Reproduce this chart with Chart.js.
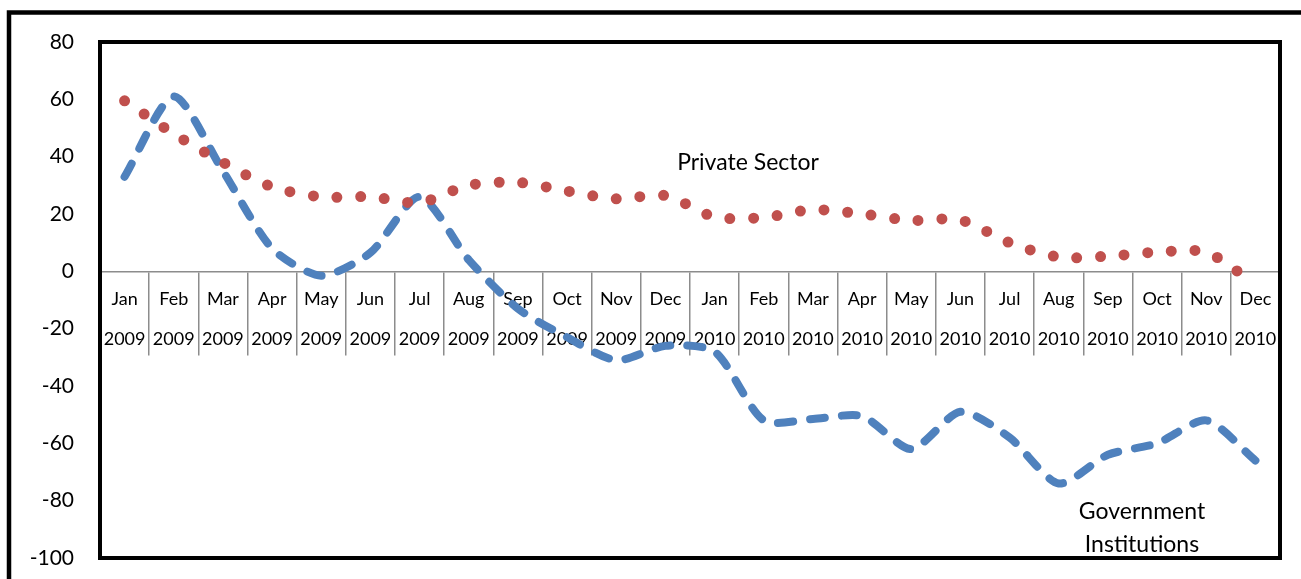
<!DOCTYPE html>
<html>
<head>
<meta charset="utf-8">
<script src="https://cdn.jsdelivr.net/npm/chart.js@4/dist/chart.umd.min.js"></script>
<style>
  html, body { margin: 0; padding: 0; background: #fff; }
  canvas { display: block; }
</style>
</head>
<body>
<canvas id="chart" width="1301" height="579"></canvas>
<script>
// DATA -----------------------------------------------------------------------

const months = ['Jan', 'Feb', 'Mar', 'Apr', 'May', 'Jun', 'Jul', 'Aug', 'Sep', 'Oct', 'Nov', 'Dec',
                'Jan', 'Feb', 'Mar', 'Apr', 'May', 'Jun', 'Jul', 'Aug', 'Sep', 'Oct', 'Nov', 'Dec']
const years = ['2009', '2009', '2009', '2009', '2009', '2009', '2009', '2009', '2009', '2009', '2009', '2009',
               '2010', '2010', '2010', '2010', '2010', '2010', '2010', '2010', '2010', '2010', '2010', '2010']

const privateSector = [59.5, 48, 38, 29.5, 26, 26, 24, 30, 31, 28, 25.3, 26.4,
                       19, 18.8, 21.5, 20, 17.8, 17.9, 10, 5, 5.3, 6.7, 6.6, -4.5]
const governmentInstitutions = [33, 61, 35, 8, -1.5, 6.5, 26, 4, -13, -23, -31, -26,
                                -28, -52, -51.5, -50.5, -62, -49, -58, -74, -64, -60, -52, -66]

const yTicks = {min: -100, max: 80, step: 20}

// SETTINGS -------------------------------------------------------------------

const colors = {
    private: '#C0504D',
    government: '#4F81BD',
    axisBox: '#8c8c8c'
}
const fontFamily = 'Lato, "Open Sans", sans-serif'

// PLUGINS --------------------------------------------------------------------

// outer chart frame, plot area border and the two series captions
const framePlugin = {
    id: 'frames',
    beforeDraw(chart) {
        const ctx = chart.ctx
        ctx.save()
        ctx.fillStyle = '#fff'
        ctx.fillRect(0, 0, chart.width, chart.height)
        ctx.strokeStyle = '#000'
        ctx.lineWidth = 4.5
        ctx.beginPath()
        ctx.moveTo(9, chart.height + 10)
        ctx.lineTo(9, 12.5)
        ctx.lineTo(chart.width + 10, 12.5)
        ctx.stroke()
        ctx.restore()
    },
    beforeDatasetsDraw(chart) {
        const {ctx, chartArea: a} = chart
        ctx.save()
        ctx.strokeStyle = '#000'
        ctx.lineWidth = 4
        ctx.strokeRect(a.left, a.top, a.right - a.left, a.bottom - a.top)
        ctx.restore()
    },
    afterDatasetsDraw(chart) {
        const ctx = chart.ctx
        ctx.save()
        ctx.fillStyle = '#000'
        ctx.font = `23px ${fontFamily}`
        ctx.textAlign = 'center'
        ctx.textBaseline = 'alphabetic'
        ctx.fillText('Private Sector', 748, 170)
        ctx.fillText('Government', 1142, 519)
        ctx.fillText('Institutions', 1142, 552)
        ctx.restore()
    }
}

// CHART ----------------------------------------------------------------------

new Chart(document.getElementById('chart'), {
    type: 'line',
    data: {
        labels: months.map((m, i) => [m, years[i]]),
        datasets: [
            {
                label: 'Private Sector',
                data: privateSector,
                borderColor: colors.private,
                borderWidth: 11,
                borderDash: [0, 23.7],
                borderCapStyle: 'round',
                pointRadius: 0,
                tension: 0.3,
                fill: false
            },
            {
                label: 'Government Institutions',
                data: governmentInstitutions,
                borderColor: colors.government,
                borderWidth: 8,
                borderDash: [15, 17],
                borderCapStyle: 'round',
                borderJoinStyle: 'round',
                pointRadius: 0,
                tension: 0.25,
                fill: false
            }
        ]
    },
    options: {
        responsive: false,
        animation: false,
        layout: {
            padding: {left: 0, top: 42, right: 21, bottom: 21}
        },
        plugins: {
            legend: {display: false},
            tooltip: {enabled: false}
        },
        scales: {
            x: {
                position: {y: 0},
                offset: true,
                grid: {
                    offset: true,
                    drawOnChartArea: false,
                    drawTicks: true,
                    tickLength: 83,
                    color: colors.axisBox,
                    lineWidth: 1.5
                },
                border: {
                    display: true,
                    color: colors.axisBox,
                    width: 1.5
                },
                ticks: {
                    autoSkip: false,
                    maxRotation: 0,
                    minRotation: 0,
                    padding: -75,
                    color: '#000',
                    font: {family: fontFamily, size: 18, lineHeight: '40px'}
                }
            },
            y: {
                min: yTicks.min,
                max: yTicks.max,
                // invisible tick marks keep the labels 26px off the plot
                grid: {display: false, drawTicks: true, tickLength: 26},
                border: {display: false},
                ticks: {
                    stepSize: yTicks.step,
                    padding: 0,
                    color: '#000',
                    font: {family: fontFamily, size: 21}
                },
                afterFit(scale) {
                    scale.width = 100
                }
            }
        }
    },
    plugins: [framePlugin]
});
</script>
</body>
</html>
